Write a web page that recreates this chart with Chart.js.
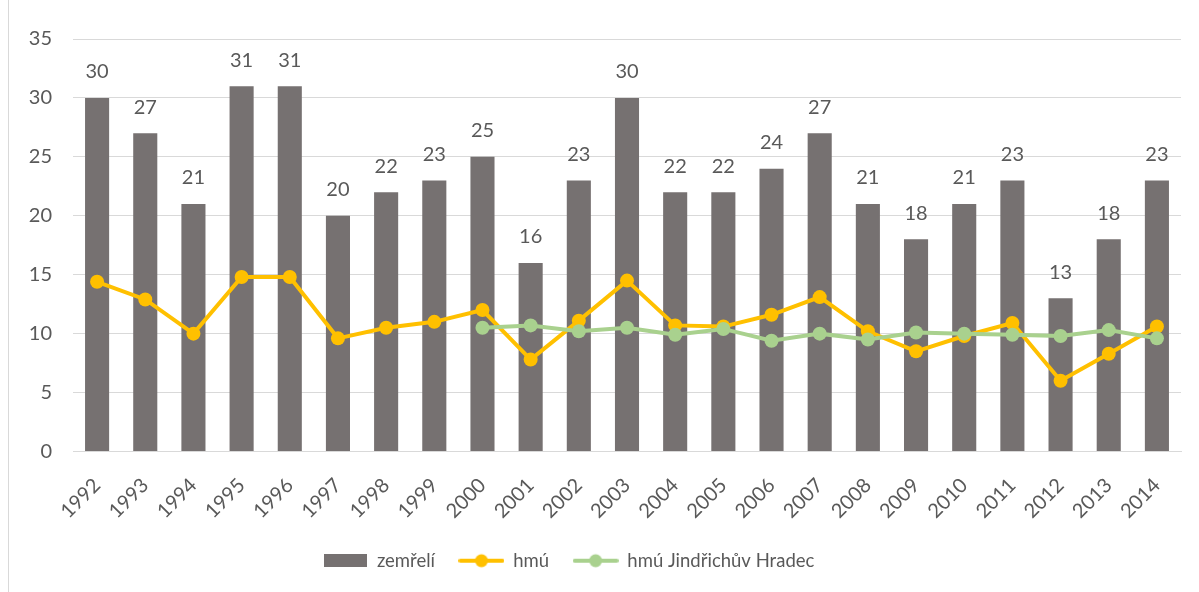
<!DOCTYPE html>
<html>
<head>
<meta charset="utf-8">
<script src="https://cdn.jsdelivr.net/npm/chart.js@4/dist/chart.umd.min.js"></script>
<style>
  html, body { margin: 0; padding: 0; background: #fff; }
  #wrap { position: relative; width: 1199px; height: 592px; }
  #frame { position: absolute; left: 8px; top: 0; width: 1px; height: 592px; background: #d9d9d9; }
</style>
</head>
<body>
<div id="wrap">
  <div id="frame"></div>
  <canvas id="myChart" width="1199" height="592"></canvas>
</div>
<script>
// roky
const roky = ['1992','1993','1994','1995','1996','1997','1998','1999','2000','2001','2002','2003',
  '2004','2005','2006','2007','2008','2009','2010','2011','2012','2013','2014'];
// zemreli (sloupce)
const zemreli = [30,27,21,31,31,20,22,23,25,16,23,30,22,22,24,27,21,18,21,23,13,18,23];
// hmu (oranzova)
const hmu = [14.4,12.9,10.0,14.8,14.8,9.6,10.5,11.0,12.0,7.8,11.1,14.5,10.7,10.6,11.6,13.1,10.2,8.5,9.8,10.9,6.0,8.3,10.6];
// hmu Jindrichuv Hradec (zelena), od roku 2000
const hmuJH = [null,null,null,null,null,null,null,null,10.5,10.7,10.2,10.5,9.9,10.4,9.4,10.0,9.5,10.1,10.0,9.9,9.8,10.3,9.6];
const yTicks = [0,5,10,15,20,25,30,35];

const seda = '#767171';
const oranzova = '#FFC000';
const zelena = '#A9D18E';
const textColor = '#595959';
const fontFam = 'Lato, "Noto Sans", sans-serif';

// ikonky do legendy
function boxIcon(color) {
  const c = document.createElement('canvas');
  c.width = 43; c.height = 13;
  const g = c.getContext('2d');
  g.fillStyle = color;
  g.fillRect(0, 0, 43, 13);
  return c;
}
function lineIcon(color) {
  const c = document.createElement('canvas');
  c.width = 46; c.height = 16;
  const g = c.getContext('2d');
  g.strokeStyle = color;
  g.lineWidth = 4;
  g.lineCap = 'round';
  g.beginPath(); g.moveTo(2, 8); g.lineTo(44, 8); g.stroke();
  g.fillStyle = color;
  g.beginPath(); g.arc(23, 8, 6.5, 0, Math.PI * 2); g.fill();
  return c;
}
const ikony = [boxIcon(seda), lineIcon(oranzova), lineIcon(zelena)];

// popisky hodnot nad sloupci
const popisky = {
  id: 'popisky',
  afterDatasetsDraw(chart) {
    const meta = chart.getDatasetMeta(0);
    const ctx = chart.ctx;
    ctx.save();
    ctx.font = '20px ' + fontFam;
    ctx.fillStyle = textColor;
    ctx.textAlign = 'center';
    ctx.textBaseline = 'middle';
    meta.data.forEach((bar, i) => {
      ctx.fillText(String(zemreli[i]), bar.x, bar.y - 26);
    });
    ctx.restore();
  }
};

// posun legendy doleva jako v originale
const posunLegendy = {
  id: 'posunLegendy',
  afterLayout(chart) {
    chart.legend.left -= 32;
    chart.legend.right -= 32;
  }
};

const ctx = document.getElementById('myChart');

let graphData = {
  type: 'bar',
  data: {
    labels: roky,
    datasets: [
      {
        type: 'bar',
        label: 'zemřelí',
        data: zemreli,
        backgroundColor: seda,
        barPercentage: 0.5,
        categoryPercentage: 1.0,
        order: 3
      },
      {
        type: 'line',
        label: 'hmú',
        data: hmu,
        borderColor: oranzova,
        backgroundColor: oranzova,
        borderWidth: 4,
        pointRadius: 7,
        pointHoverRadius: 7,
        pointBorderWidth: 0,
        tension: 0,
        order: 2
      },
      {
        type: 'line',
        label: 'hmú Jindřichův Hradec',
        data: hmuJH,
        borderColor: zelena,
        backgroundColor: zelena,
        borderWidth: 4,
        pointRadius: 7,
        pointHoverRadius: 7,
        pointBorderWidth: 0,
        tension: 0,
        order: 1
      }
    ]
  },
  options: {
    responsive: false,
    animation: false,
    layout: { padding: { top: 39, right: 18, left: 20, bottom: 12 } },
    plugins: {
      tooltip: { enabled: false },
      legend: {
        position: 'bottom',
        labels: {
          color: textColor,
          font: { family: fontFam, size: 18.5 },
          usePointStyle: true,
          pointStyleWidth: 45,
          padding: 24,
          generateLabels(chart) {
            return chart.data.datasets.map((ds, i) => ({
              text: ds.label,
              pointStyle: ikony[i],
              fillStyle: ds.backgroundColor,
              strokeStyle: ds.backgroundColor,
              lineWidth: 0,
              fontColor: textColor,
              hidden: false,
              datasetIndex: i
            }));
          }
        }
      }
    },
    scales: {
      x: {
        grid: { display: false, drawTicks: false },
        border: { color: '#d9d9d9', width: 1 },
        ticks: {
          color: textColor,
          font: { family: fontFam, size: 20 },
          minRotation: 45,
          maxRotation: 45,
          padding: 22
        },
        afterFit(scale) { scale.height = 76; }
      },
      y: {
        min: 0,
        max: 35,
        afterBuildTicks(scale) { scale.ticks = yTicks.map(v => ({ value: v })); },
        grid: { color: '#d9d9d9', drawTicks: false },
        border: { display: false },
        ticks: {
          color: textColor,
          font: { family: fontFam, size: 20 },
          padding: 21
        },
        afterFit(scale) { scale.width = 53; }
      }
    }
  },
  plugins: [popisky, posunLegendy]
};

let myChart = new Chart(ctx, graphData);
</script>
</body>
</html>
